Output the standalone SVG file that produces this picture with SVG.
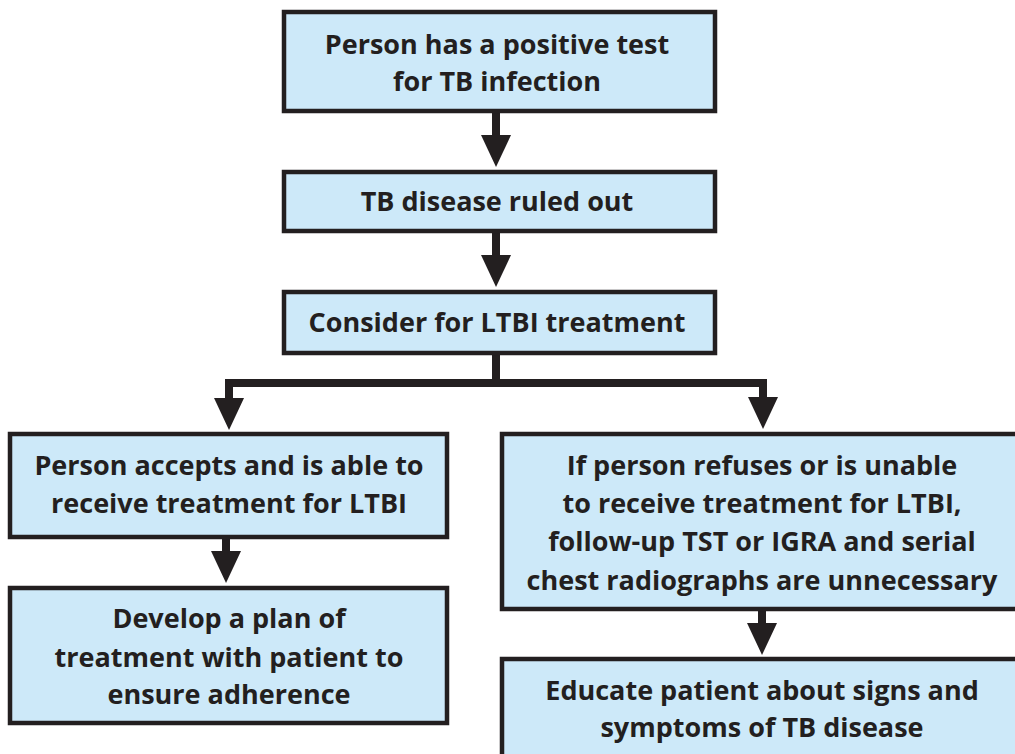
<svg xmlns="http://www.w3.org/2000/svg" width="1015" height="754" viewBox="0 0 1015 754">
<defs>
<style>
.box{fill:#cde9f9;stroke:#231f20;stroke-width:4.5}
.t{font-family:"Open Sans","Noto Sans","Liberation Sans",sans-serif;font-weight:700;font-size:27px;fill:#231f20;text-anchor:middle}
.c{fill:none;stroke:#231f20;stroke-width:8;stroke-linejoin:miter;stroke-linecap:butt}
</style>
<marker id="ah" markerUnits="userSpaceOnUse" markerWidth="34" markerHeight="30" viewBox="0 0 34 30" refX="4" refY="15" orient="auto">
<path d="M0,0 L32,15 L0,30 Z" fill="#231f20"/>
</marker>
</defs>
<rect width="1015" height="754" fill="#ffffff"/>
<g id="connectors">
<path class="c" d="M496,113 V139" marker-end="url(#ah)"/>
<path class="c" d="M496,233 V259" marker-end="url(#ah)"/>
<path class="c" d="M496,355 V383 H229 V402" marker-end="url(#ah)"/>
<path class="c" d="M496,383 H763 V401" marker-end="url(#ah)"/>
<path class="c" d="M226,539 V555" marker-end="url(#ah)"/>
<path class="c" d="M762,611 V627" marker-end="url(#ah)"/>
</g>
<g id="n1">
<rect class="box" x="284" y="12" width="431" height="99"/>
<text class="t" x="497" y="54">Person has a positive test</text>
<text class="t" x="497" y="91">for TB infection</text>
</g>
<g id="n2">
<rect class="box" x="284" y="172" width="431" height="59"/>
<text class="t" x="497" y="211">TB disease ruled out</text>
</g>
<g id="n3">
<rect class="box" x="284" y="292" width="431" height="61"/>
<text class="t" x="497" y="332">Consider for LTBI treatment</text>
</g>
<g id="n4">
<rect class="box" x="10" y="434" width="437" height="103"/>
<text class="t" x="229" y="475">Person accepts and is able to</text>
<text class="t" x="229" y="513">receive treatment for LTBI</text>
</g>
<g id="n5">
<rect class="box" x="502" y="434" width="530" height="175"/>
<text class="t" x="762" y="475">If person refuses or is unable</text>
<text class="t" x="762" y="513">to receive treatment for LTBI,</text>
<text class="t" x="762" y="551">follow-up TST or IGRA and serial</text>
<text class="t" x="762" y="590">chest radiographs are unnecessary</text>
</g>
<g id="n6">
<rect class="box" x="10" y="588" width="437" height="135"/>
<text class="t" x="229" y="628">Develop a plan of</text>
<text class="t" x="229" y="667">treatment with patient to</text>
<text class="t" x="229" y="704">ensure adherence</text>
</g>
<g id="n7">
<rect class="box" x="502" y="659" width="530" height="120"/>
<text class="t" x="762" y="700">Educate patient about signs and</text>
<text class="t" x="762" y="737">symptoms of TB disease</text>
</g>
</svg>
